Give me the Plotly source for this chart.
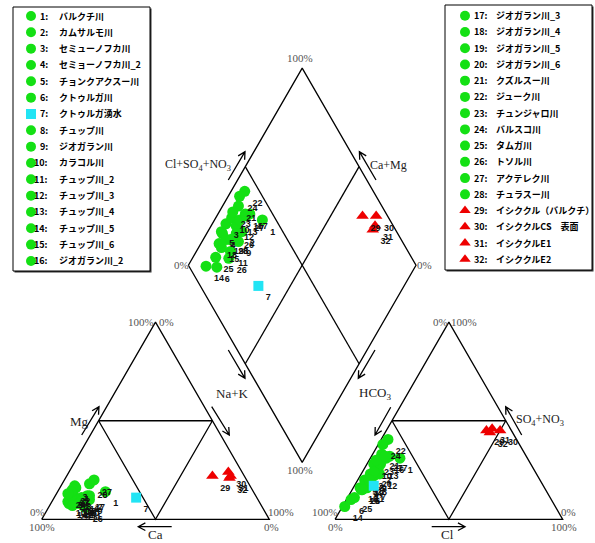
import numpy as np
import plotly.graph_objects as go

# ---- sample data (meq %) ----
sample_no = list(range(1, 33))
names = [
    "バルクチ川", "カムサルモ川", "セミューノフカ川", "セミョーノフカ川_2", "チョンクアクスー川",
    "クトゥルガ川", "クトゥルガ湧水", "チュップ川", "ジオガラン川", "カラコル川",
    "チュップ川_2", "チュップ川_3", "チュップ川_4", "チュップ川_5", "チュップ川_6",
    "ジオガラン川_2", "ジオガラン川_3", "ジオガラン川_4", "ジオガラン川_5", "ジオガラン川_6",
    "クズルスー川", "ジューク川", "チュンジャロ川", "バルスコ川", "タムガ川",
    "トソル川", "アクテレク川", "チュラスー川", "イシククル（バルクチ）", "イシククルCS　表面",
    "イシククルE1", "イシククルE2",
]
kind = ["river"] * 6 + ["spring"] + ["river"] * 21 + ["lake"] * 4

ca = [65, 73, 77, 77, 81, 79, 53, 77, 74, 84, 78, 81, 79, 84, 81, 77,
      74, 80, 80, 78, 81, 79, 80, 82, 83, 78, 67, 70, 14, 6, 6, 7]
mg = [14, 12, 17, 16, 13, 8, 11, 9, 10, 9, 7, 8, 10, 8, 9, 11,
      12, 12, 10, 9, 12, 15, 14, 13, 7, 6, 20, 18, 22, 24, 22, 21]
nak = [21, 15, 6, 7, 6, 13, 36, 14, 16, 7, 15, 11, 11, 8, 10, 12,
       14, 8, 10, 13, 7, 6, 6, 5, 10, 16, 13, 12, 64, 70, 72, 72]
hco3 = [56, 68, 73, 77, 77, 88, 74.5, 73, 72, 69, 78, 69, 66, 92.5, 81, 62,
        60, 81, 77, 71, 63, 56.5, 67, 60, 86, 80.5, 62, 75, 11, 5, 8, 10]
so4 = [31, 26, 23, 19, 20, 10, 17, 22, 22, 28, 16, 23, 28, 6.5, 15, 31,
       32, 16, 19, 24, 33, 40.5, 30, 38, 11, 15, 32, 20, 45, 45, 46, 44]
cl = [13, 6, 4, 4, 3, 2, 8.5, 5, 6, 3, 6, 8, 6, 1, 4, 7,
      8, 3, 4, 5, 4, 3, 3, 2, 3, 4.5, 6, 5, 44, 50, 46, 46]

styles = {
    "river": dict(symbol="circle", color="#14e014", size=11),
    "spring": dict(symbol="square", color="#22e4f4", size=10),
    "lake": dict(symbol="triangle-up", color="#ee0000", size=11),
}

# ---- Piper geometry (unit triangle side) ----
H = np.sqrt(3) / 2
GAP = 0.289
LX, LY = 0.5 + GAP / 2, H * (1 + GAP)          # left vertex of the diamond


def cation_xy(nk, m):
    return nk / 100 + m / 200, m / 100 * H


def anion_xy(c, s):
    return 1 + GAP + c / 100 + s / 200, s / 100 * H


def diamond_xy(nk, cs):
    return LX + 0.5 * (cs + nk) / 100, LY + H * (cs - nk) / 100


# page pixel -> axis coordinates (for decorations and legend layout)
X0, Y0, S = 41.7, 519.3, 227.6


def P(px, py):
    return (px - X0) / S, (Y0 - py) / S


fig = go.Figure()

# ---- frames ----
frame_x, frame_y = [], []


def seg(pts):
    for x, y in pts:
        frame_x.append(x)
        frame_y.append(y)
    frame_x.append(None)
    frame_y.append(None)


for ox in (0.0, 1 + GAP):
    seg([(ox, 0), (ox + 1, 0), (ox + 0.5, H), (ox, 0)])
    seg([(ox + 0.25, H / 2), (ox + 0.75, H / 2), (ox + 0.5, 0), (ox + 0.25, H / 2)])

Bx, By = 1 + GAP / 2, GAP * H
Lp, Bp, Tp, Rp = (LX, LY), (Bx, By), (Bx, By + 2 * H), (Bx + 0.5, By + H)
seg([Lp, Tp, Rp, Bp, Lp])
mid = lambda a, b: ((a[0] + b[0]) / 2, (a[1] + b[1]) / 2)
seg([mid(Lp, Tp), mid(Bp, Rp)])
seg([mid(Tp, Rp), mid(Lp, Bp)])

fig.add_trace(go.Scatter(x=frame_x, y=frame_y, mode="lines",
                         line=dict(color="black", width=1.3), hoverinfo="skip"))

# ---- samples ----
for k in ("river", "spring", "lake"):
    xs, ys, ts = [], [], []
    for i, n in enumerate(sample_no):
        if kind[i] != k:
            continue
        cx, cy = cation_xy(nak[i], mg[i])
        ax, ay = anion_xy(cl[i], so4[i])
        dx, dy = diamond_xy(nak[i], cl[i] + so4[i])
        xs += [cx, ax, dx]
        ys += [cy, ay, dy]
        ts += [str(n)] * 3
    st = styles[k]
    fig.add_trace(go.Scatter(
        x=xs, y=ys, text=ts, mode="markers+text", textposition="bottom right",
        textfont=dict(family="Liberation Sans Narrow, Arial Narrow, sans-serif", size=9,
                      color="#111", weight="bold"),
        marker=dict(symbol=st["symbol"], color=st["color"], size=st["size"], line=dict(width=0)),
        name=k, hoverinfo="text"))

# ---- arrows ----
shapes = []


def arrow(p1, p2):
    x1, y1 = P(*p1)
    x2, y2 = P(*p2)
    v = np.array([x2 - x1, y2 - y1])
    v = v / np.linalg.norm(v)
    L = 8 / S
    out = []
    for a in (np.radians(28), -np.radians(28)):
        r = np.array([[np.cos(a), -np.sin(a)], [np.sin(a), np.cos(a)]]) @ (-v)
        out.append((x2 + L * r[0], y2 + L * r[1]))
    path = (f"M {x1},{y1} L {x2},{y2} M {out[0][0]},{out[0][1]} "
            f"L {x2},{y2} L {out[1][0]},{out[1][1]}")
    shapes.append(dict(type="path", path=path, xref="x", yref="y",
                       line=dict(color="black", width=1.3)))


arrow((81.7, 435), (99, 406.7))        # Mg
arrow((211.7, 406.7), (229.3, 435))    # Na+K (cations)
arrow((171.7, 526.7), (138.3, 526.7))  # Ca
arrow((228.3, 350), (245, 378.3))      # Na+K (diamond)
arrow((390.7, 407.3), (375, 435))      # HCO3 (anions)
arrow((375, 350), (358.3, 378.3))      # HCO3 (diamond)
arrow((521.7, 435), (505.7, 406.7))    # SO4+NO3
arrow((431.7, 526.7), (465, 526.7))    # Cl
arrow((228.3, 180), (245, 151.7))      # Cl+SO4+NO3
arrow((376, 180), (359.4, 151.7))      # Ca+Mg

# ---- text ----
ann = []
SERIF = "Liberation Serif, Times New Roman, serif"


def label(px, py, text, size=13, color="#222", anchor="center"):
    x, y = P(px, py)
    ann.append(dict(x=x, y=y, xref="x", yref="y", text=text, showarrow=False,
                    xanchor=anchor, yanchor="middle",
                    font=dict(family=SERIF, size=size, color=color)))


label(198, 165, "Cl+SO<sub>4</sub>+NO<sub>3</sub>", 12)
label(388, 165, "Ca+Mg", 12)
label(232, 393, "Na+K", 13)
label(375, 393, "HCO<sub>3</sub>", 13)
label(79, 421, "Mg", 13)
label(155, 534, "Ca", 13)
label(447, 534, "Cl", 13)
label(540, 420, "SO<sub>4</sub>+NO<sub>3</sub>", 12)

PC = "#555"
for px, py, t in [(300, 58, "100%"), (181, 265, "0%"), (424, 265, "0%"), (300, 470, "100%"),
                  (141, 322, "100%"), (166, 322, "0%"), (37, 512, "0%"), (42, 527, "100%"),
                  (281, 512, "100%"), (271, 527, "0%"),
                  (440, 322, "0%"), (464, 322, "100%"), (325, 512, "100%"), (335, 527, "0%"),
                  (568, 512, "0%"), (564, 527, "100%")]:
    label(px, py, t, 11, PC)

# ---- legend boxes ----
for (l, t, r, b) in [(13, 7, 150, 271), (445, 5, 592, 270)]:
    x0, y1 = P(l, t)
    x1, y0 = P(r, b)
    d = 1.5 / S
    shapes.append(dict(type="rect", x0=x0 + d, x1=x1 + d, y0=y0 - d, y1=y1 - d,
                       xref="x", yref="y", fillcolor="#333", line=dict(width=0), layer="below"))
    shapes.append(dict(type="rect", x0=x0, x1=x1, y0=y0, y1=y1, xref="x", yref="y",
                       fillcolor="white", line=dict(color="black", width=1), layer="below"))

JP = "Noto Sans CJK JP, sans-serif"
leg_x = {k: ([], []) for k in styles}
for i, n in enumerate(sample_no):
    if n <= 16:
        row_y = 16 + (n - 1) * 16.33
        mx, nx, tx = 31, 50, 57
    else:
        row_y = 15.7 + (n - 17) * 16.24
        mx, nx, tx = 465, 490, 494
    x, y = P(mx, row_y)
    leg_x[kind[i]][0].append(x)
    leg_x[kind[i]][1].append(y)
    xa, ya = P(nx, row_y)
    ann.append(dict(x=xa, y=ya, xref="x", yref="y", text=f"{n}:", showarrow=False,
                    xanchor="right", yanchor="middle",
                    font=dict(family=JP, size=9, color="black", weight="bold")))
    xb, yb = P(tx, row_y)
    ann.append(dict(x=xb, y=yb, xref="x", yref="y", text=names[i], showarrow=False,
                    xanchor="left", yanchor="middle",
                    font=dict(family=JP, size=9, color="black", weight="bold")))

for k, (xs, ys) in leg_x.items():
    st = styles[k]
    fig.add_trace(go.Scatter(x=xs, y=ys, mode="markers", hoverinfo="skip",
                             marker=dict(symbol=st["symbol"], color=st["color"],
                                         size=10, line=dict(width=0))))

xr0, yr1 = P(0, 0)
xr1, yr0 = P(595, 543)
fig.update_layout(
    width=595, height=543, margin=dict(l=0, r=0, t=0, b=0),
    paper_bgcolor="white", plot_bgcolor="white", showlegend=False,
    xaxis=dict(range=[xr0, xr1], visible=False, fixedrange=True),
    yaxis=dict(range=[yr0, yr1], visible=False, fixedrange=True),
    shapes=shapes, annotations=ann,
)

fig.write_html("out.html")
